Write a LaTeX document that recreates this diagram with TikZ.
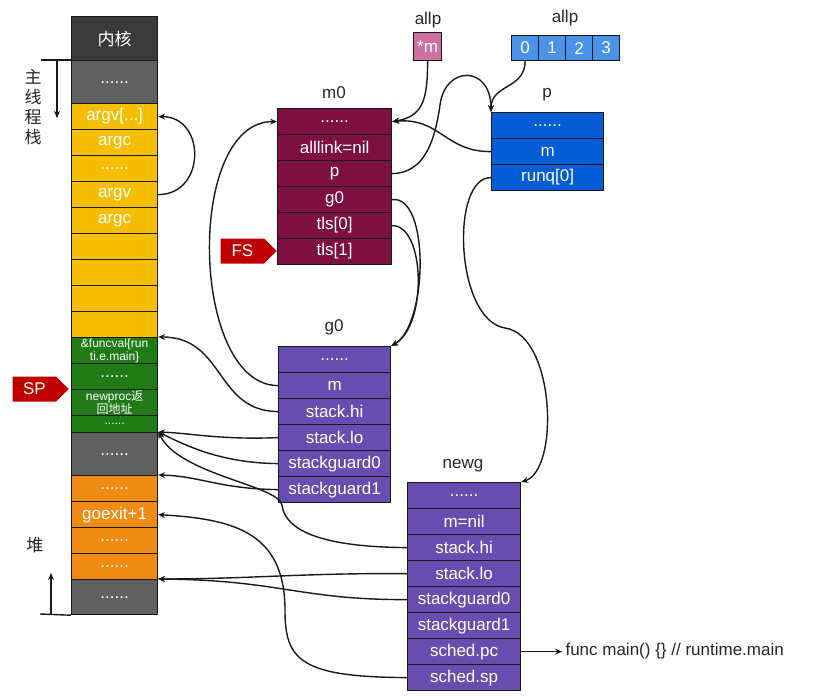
\documentclass[tikz,border=0pt]{standalone}
\usepackage{fontspec}
\setmainfont{Liberation Sans}
\newfontfamily\cjk{Noto Sans CJK SC}
\usepackage{tikz}
\usetikzlibrary{arrows.meta}
\usetikzlibrary{shapes.symbols}
\definecolor{kernelc}{RGB}{58,58,58}
\definecolor{greyc}{RGB}{96,96,96}
\definecolor{yellowc}{RGB}{245,190,0}
\definecolor{greenc}{RGB}{32,122,22}
\definecolor{orangec}{RGB}{240,140,20}
\definecolor{mcol}{RGB}{125,15,65}
\definecolor{gcol}{RGB}{105,76,175}
\definecolor{pcol}{RGB}{5,92,215}
\definecolor{allpc}{RGB}{74,145,232}
\definecolor{mptrc}{RGB}{205,112,160}
\definecolor{ptrred}{RGB}{190,0,0}
\tikzset{
  cellbox/.style={draw=black!90, line width=1.2pt, text=white, inner sep=0pt, anchor=north west, font=\fontsize{17}{19}\selectfont},
  smalltxt/.style={font=\fontsize{12}{13}\selectfont, align=center},
  title/.style={text=black!85, font=\fontsize{17}{19}\selectfont},
  link/.style={line width=1.4pt, black!90, -{Stealth[length=7pt,width=6pt,inset=2.5pt]}},
  ptr/.style={signal, signal to=east, fill=ptrred, text=white, minimum width=56pt, minimum height=25pt, inner sep=0pt, anchor=east, font=\fontsize{17}{19}\selectfont}
}
\newcommand{\memcell}[8][]{ \node[cellbox, fill=#7, minimum width=#5pt, minimum height=#6pt, #1] (#2) at ( #3 , #4 ) {#8};}

\begin{document}
\begin{tikzpicture}[x=1pt, y=-1pt]
\fill[white] (0,0) rectangle (825,696);
\useasboundingbox (0,0) rectangle (825,696);
%
\memcell{s1}{71}{16}{86}{44}{kernelc}{\cjk 内核}
\memcell{s2}{71}{60}{86}{43}{greyc}{......}
\memcell{s3}{71}{103}{86}{26}{yellowc}{argv[...]}
\memcell{s4}{71}{129}{86}{26}{yellowc}{argc}
\memcell{s5}{71}{155}{86}{26}{yellowc}{......}
\memcell{s6}{71}{181}{86}{26}{yellowc}{argv}
\memcell{s7}{71}{207}{86}{26}{yellowc}{argc}
\memcell{s8}{71}{233}{86}{26}{yellowc}{}
\memcell{s9}{71}{259}{86}{26}{yellowc}{}
\memcell{s10}{71}{285}{86}{26}{yellowc}{}
\memcell{s11}{71}{311}{86}{26}{yellowc}{}
\memcell[smalltxt]{s12}{71}{337}{86}{26}{greenc}{\&funcval\{run\\ti.e.main\}}
\memcell{s13}{71}{363}{86}{26}{greenc}{......}
\memcell[smalltxt]{s14}{71}{389}{86}{26}{greenc}{newproc{\cjk 返}\\{\cjk 回地址}}
\memcell[smalltxt]{s15}{71}{415}{86}{17}{greenc}{......}
\memcell{s16}{71}{432}{86}{43}{greyc}{......}
\memcell{s17}{71}{475}{86}{26}{orangec}{......}
\memcell{s18}{71}{501}{86}{26}{orangec}{goexit+1}
\memcell{s19}{71}{527}{86}{26}{orangec}{......}
\memcell{s20}{71}{553}{86}{26}{orangec}{......}
\memcell{s21}{71}{579}{86}{35}{greyc}{......}
%
\node[title, align=center, font=\cjk\fontsize{17}{20}\selectfont] (mainstk) at (33,107) {主\\线\\程\\栈};
\node[title, font=\cjk\fontsize{17}{20}\selectfont] (heap) at (35,545) {堆};
\coordinate (stkA) at (41,60);
\coordinate (stkB) at (57,60);
\coordinate (stkC) at (57,118);
\coordinate (heapA) at (40,614);
\coordinate (heapB) at (51,614);
\coordinate (heapC) at (51,573);
\draw[line width=1.4pt, black!90] (stkA) -- (s2.north west);
\draw[link] (stkB) -- (stkC);
\draw[line width=1.4pt, black!90] (heapA) -- (s21.south west);
\draw[link] (heapB) -- (heapC);
\node[ptr] (SP) at (69,389) {SP};
%
\node[title] (m0t) at (334,93) {m0};
\memcell{m0a}{277}{108}{114}{26}{mcol}{......}
\memcell{m0b}{277}{134}{114}{26}{mcol}{alllink=nil}
\memcell{m0c}{277}{160}{114}{26}{mcol}{p}
\memcell{m0d}{277}{186}{114}{26}{mcol}{g0}
\memcell{m0e}{277}{212}{114}{26}{mcol}{tls[0]}
\memcell{m0f}{277}{238}{114}{26}{mcol}{tls[1]}
\node[ptr] (FS) at (277,251) {FS};
%
\node[title] (allpm) at (428,20) {allp};
\memcell{pm}{413}{32}{28}{28}{mptrc}{*m}
\node[title] (allpa) at (565,18) {allp};
\memcell{a0}{511}{35}{27}{25}{allpc}{0}
\memcell{a1}{538}{35}{27}{25}{allpc}{1}
\memcell{a2}{565}{35}{27}{25}{allpc}{2}
\memcell{a3}{592}{35}{27}{25}{allpc}{3}
%
\node[title] (pt) at (547,95) {p};
\memcell{p1}{491}{112}{112}{26}{pcol}{......}
\memcell{p2}{491}{138}{112}{26}{pcol}{m}
\memcell{p3}{491}{164}{112}{26}{pcol}{runq[0]}
%
\node[title] (g0t) at (334,327) {g0};
\memcell{g1}{278}{346}{112}{26}{gcol}{......}
\memcell{g2}{278}{372}{112}{26}{gcol}{m}
\memcell{g3}{278}{398}{112}{26}{gcol}{stack.hi}
\memcell{g4}{278}{424}{112}{26}{gcol}{stack.lo}
\memcell{g5}{278}{450}{112}{26}{gcol}{stackguard0}
\memcell{g6}{278}{476}{112}{26}{gcol}{stackguard1}
%
\node[title] (newgt) at (463,466) {newg};
\memcell{n1}{407}{482}{113}{26}{gcol}{......}
\memcell{n2}{407}{508}{113}{26}{gcol}{m=nil}
\memcell{n3}{407}{534}{113}{26}{gcol}{stack.hi}
\memcell{n4}{407}{560}{113}{26}{gcol}{stack.lo}
\memcell{n5}{407}{586}{113}{26}{gcol}{stackguard0}
\memcell{n6}{407}{612}{113}{26}{gcol}{stackguard1}
\memcell{n7}{407}{638}{113}{26}{gcol}{sched.pc}
\memcell{n8}{407}{664}{113}{26}{gcol}{sched.sp}
\node[title, anchor=west] (fmain) at (562,651) {func main() \{\} // runtime.main};
%
\draw[link] (s6.east) .. controls +(48,0) and +(48,0) .. (s3.east);
\draw[link] (pm.south) .. controls +(0,40) and +(30,-5) .. (m0a.east);
\draw[link] (a0.south) .. controls +(0,28) and +(0,-28) .. (p1.north west);
\draw[link] (m0c.east) .. controls (425,173) and (435,140) .. (440,105) .. controls (445,65) and (491,65) .. (p1.north west);
\draw[link] (p2.west) .. controls (445,152) and (440,117) .. (m0a.east);
\draw[link] (m0d.east) .. controls (430,195) and (428,325) .. (g1.north east);
\draw[link] (m0e.east) .. controls (425,225) and (428,325) .. (g1.north east);
\draw[link] (g2.west) .. controls (190,385) and (185,121) .. (m0a.west);
\draw[link] (g3.west) .. controls (215,411) and (225,337) .. (s12.north east);
\draw[link] (g4.west) .. controls (220,440) and (190,433) .. (s16.north east);
\draw[link] (g5.west) .. controls (220,463) and (185,445) .. (s16.north east);
\draw[link] (g6.west) .. controls (220,489) and (200,476) .. (s17.north east);
\draw[link] (n3.west) .. controls (320,547) and (285,530) .. (282,505) .. controls (278,485) and (180,475) .. (s16.north east);
\draw[link] (n4.west) .. controls (300,573) and (250,579) .. (s21.north east);
\draw[link] (n5.west) .. controls (300,600) and (280,580) .. (s21.north east);
\draw[link] (n8.west) .. controls (300,677) and (285,660) .. (285,610) .. controls (285,530) and (230,519) .. (s18.east);
\draw[link] (p3.west) .. controls (450,177) and (455,320) .. (505,328) .. controls (555,335) and (560,470) .. (n1.north east);
\draw[link] (n7.east) -- (n7.east -| fmain.west);

\end{tikzpicture}
\end{document}
